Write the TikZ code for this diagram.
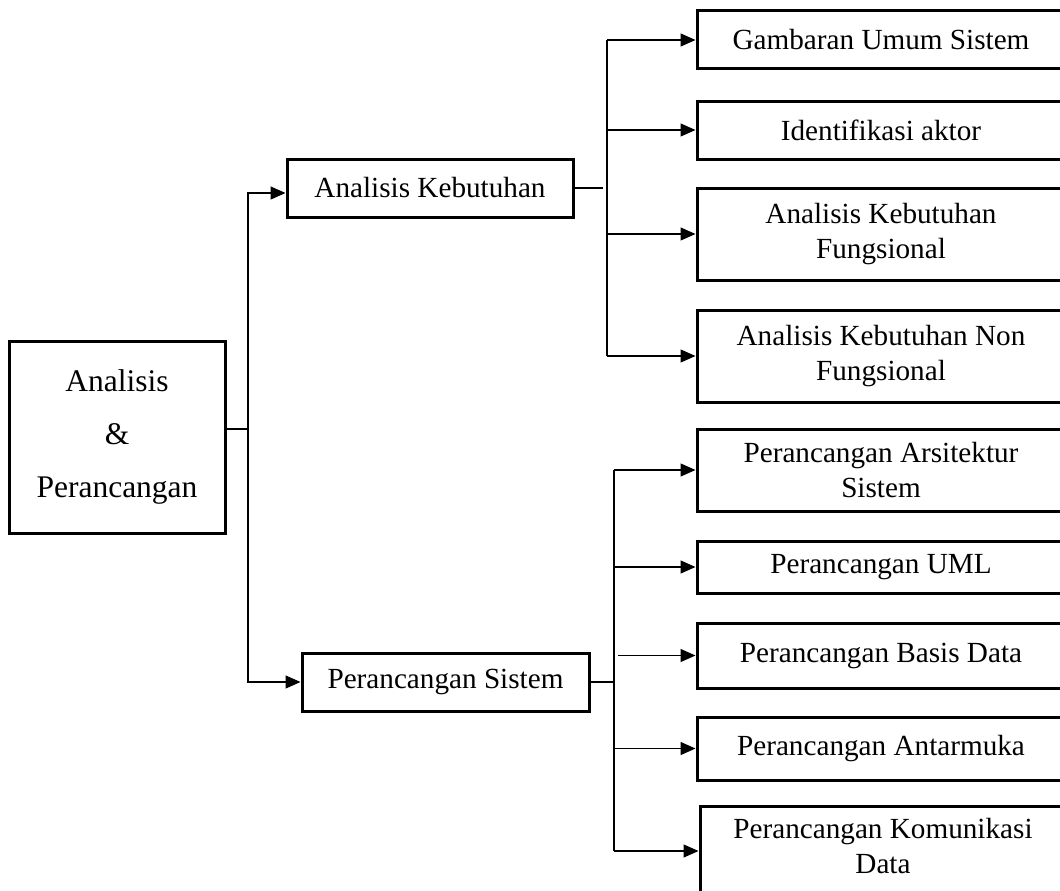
\documentclass[tikz,border=0pt]{standalone}
\usepackage{fontspec}
\setmainfont{Liberation Serif}
\usetikzlibrary{arrows.meta}

\begin{document}
\begin{tikzpicture}[x=1pt,y=-1pt,
  box/.style={draw, line width=3pt, inner sep=0pt, align=center,
    font=\fontsize{29.2}{35}\selectfont, minimum width=368pt},
  conn/.style={line width=1.3pt},
  arr/.style={line width=1.3pt, -{Triangle[length=15pt,width=13pt]}}]
\useasboundingbox (0,0) rectangle (1060,891);
\clip (0,0) rectangle (1060,891);

% root
\node[draw, line width=3pt, inner sep=0pt, align=center,
  font=\fontsize{31.5}{53}\selectfont,
  minimum width=216pt, minimum height=192pt] (root) at (117,437)
  {Analisis\\\&\\Perancangan};

% second level
\node[box, minimum width=286pt, minimum height=58pt] (ak) at (430,188) {Analisis Kebutuhan};
\node[box, minimum width=287pt, minimum height=58pt] (ps) at (445.5,682) {Perancangan Sistem};

% analysis branch
\node[box, minimum height=58pt] (gus) at (881,40) {Gambaran Umum Sistem};
\node[box, minimum height=58pt] (ida) at (881,130) {Identifikasi aktor};
\node[box, minimum height=92pt] (akf) at (881,234) {Analisis Kebutuhan\\Fungsional};
\node[box, minimum height=92pt] (aknf) at (881,356) {Analisis Kebutuhan Non\\Fungsional};

% design branch
\node[box, minimum height=82pt] (pas) at (881,470) {Perancangan Arsitektur\\Sistem};
\node[box, minimum height=52pt] (uml) at (881,567) {Perancangan UML};
\node[box, minimum height=65pt] (pbd) at (881,655.5) {Perancangan Basis Data};
\node[box, minimum height=63pt] (pa) at (881,748.5) {Perancangan Antarmuka};
\node[box, minimum width=366pt, minimum height=114pt] (pkd) at (883,863) {};
\node[align=center, inner sep=0pt, font=\fontsize{29.2}{35}\selectfont]
  (pkdtext) at (883,846) {Perancangan Komunikasi\\Data};

% root connectors
\coordinate (j0) at (248,429);
\draw[conn] (root.east |- j0) -- (j0);
\draw[arr] (j0) |- ([yshift=-5pt]ak.west);
\draw[arr] (j0) |- (ps.west);

% analysis connectors
\coordinate (j1) at (607,188);
\coordinate (j1top) at (607,40);
\coordinate (j1bot) at (607,356);
\draw[conn] (ak.east) -- (603,188);
\draw[conn] (j1top) -- (j1bot);
\draw[arr] (j1top) -- (gus.west);
\draw[arr] (607,130) -- (ida.west);
\draw[arr] (607,234) -- (akf.west);
\draw[arr] (j1bot) -- (aknf.west);

% design connectors
\coordinate (j2top) at (614,470);
\coordinate (j2bot) at (614,851);
\coordinate (pbdstart) at (618,655.5);
\draw[conn] (ps.east) -- (614,682);
\draw[conn] (j2top) -- (j2bot);
\draw[arr] (j2top) -- (pas.west);
\draw[arr] (614,567) -- (uml.west);
\draw[arr] (pbdstart) -- (pbd.west);
\draw[arr] (614,748.5) -- (pa.west);
\draw[arr] (j2bot) -- (pkd.west |- j2bot);
\end{tikzpicture}
\end{document}
